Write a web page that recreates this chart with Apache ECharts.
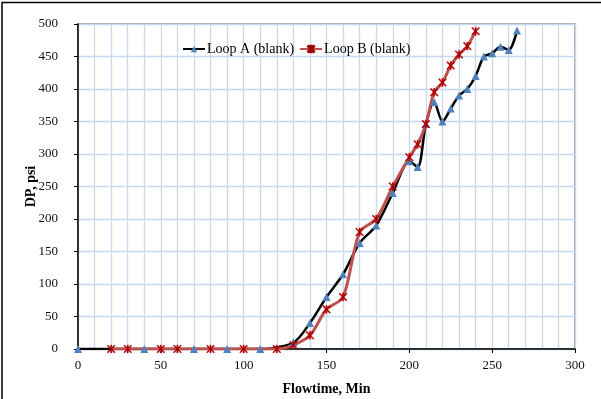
<!DOCTYPE html>
<html>
<head>
<meta charset="utf-8">
<script src="https://cdn.jsdelivr.net/npm/echarts@6/dist/echarts.min.js"></script>
<style>
html,body{margin:0;padding:0;background:#fff;}
#c{width:601px;height:399px;}
</style>
</head>
<body>
<div id="c"></div>
<script>
// ---- data ----
const seriesNames = ["Loop A (blank)", "Loop B (blank)"];
const timeA = [0, 40, 70, 90, 110, 130, 140, 150, 160, 170, 180, 190, 200, 205, 210, 215, 220, 225, 230, 235, 240, 245, 250, 255, 260, 265];
const dpA   = [0, 0, 0, 0, 0, 10, 40, 80, 115, 163, 190, 240, 289, 280, 346, 380, 350, 370, 390, 400, 420, 450, 455, 465, 460, 490];
const timeB = [20, 30, 50, 60, 80, 100, 120, 130, 140, 150, 160, 170, 180, 190, 200, 205, 210, 215, 220, 225, 230, 235, 240];
const dpB   = [0, 0, 0, 0, 0, 0, 0, 6, 21, 61, 80, 180, 200, 250, 295, 315, 346, 395, 410, 436, 453, 466, 489];
const xTicks = [0, 50, 100, 150, 200, 250, 300];
const yTicks = [0, 50, 100, 150, 200, 250, 300, 350, 400, 450, 500];
const xTitle = "Flowtime, Min";
const yTitle = "DP, psi";

const font = "Liberation Serif";
const starPath = "path://M0,1L1,0L10,9L9,10Z M9,0L10,1L1,10L0,9Z M4.3,0L5.7,0L5.7,10L4.3,10Z";

const chart = echarts.init(document.getElementById('c'), null, {renderer: 'canvas'});
chart.setOption({
  animation: false,
  backgroundColor: '#fff',
  textStyle: {fontFamily: font},
  graphic: [{
    type: 'rect', silent: true, z: 100,
    shape: {x: 2, y: 2.5, width: 640, height: 440},
    style: {fill: 'none', stroke: '#000', lineWidth: 1.5}
  }],
  legend: {
    left: 177, top: 37,
    itemWidth: 22, itemHeight: 8, itemGap: 5,
    textStyle: {fontFamily: font, fontSize: 14, color: '#000', padding: [0, 0, 0, -3]},
    data: seriesNames
  },
  grid: {
    left: 78, right: 26, top: 24, bottom: 50,
    outerBoundsMode: 'none', containLabel: false,
    show: true, borderColor: '#868686', borderWidth: 1.5, backgroundColor: 'transparent'
  },
  xAxis: {
    type: 'value', min: xTicks[0], max: xTicks[xTicks.length - 1], interval: 50,
    name: xTitle, nameLocation: 'middle', nameGap: 33, nameMoveOverlap: false,
    nameTextStyle: {fontFamily: font, fontSize: 14, fontWeight: 'bold', color: '#000'},
    axisLine: {show: true, onZero: false, lineStyle: {color: '#000', width: 1.5}},
    axisTick: {show: true, inside: false, length: 4, lineStyle: {color: '#000', width: 1}},
    axisLabel: {fontFamily: font, fontSize: 13, color: '#111', margin: 10},
    splitLine: {show: true, lineStyle: {color: '#c6d9f0', width: 1.3}},
    minorTick: {show: false, splitNumber: 5},
    minorSplitLine: {show: true, lineStyle: {color: '#c6d9f0', width: 1.3}}
  },
  yAxis: {
    type: 'value', min: yTicks[0], max: yTicks[yTicks.length - 1], interval: 50,
    name: yTitle, nameLocation: 'middle', nameGap: 40, nameRotate: 90, nameMoveOverlap: false,
    nameTextStyle: {fontFamily: font, fontSize: 14, fontWeight: 'bold', color: '#000'},
    axisLine: {show: true, onZero: false, lineStyle: {color: '#000', width: 1.5}},
    axisTick: {show: true, inside: false, length: 4, lineStyle: {color: '#000', width: 1}},
    axisLabel: {fontFamily: font, fontSize: 13, color: '#111', margin: 20},
    splitLine: {show: true, lineStyle: {color: '#c6d9f0', width: 1.3}}
  },
  series: [
    {
      name: seriesNames[0], type: 'line', smooth: 0.3,
      data: timeA.map((t, i) => [t, dpA[i]]),
      lineStyle: {color: '#000', width: 2.5},
      itemStyle: {color: '#4f81bd'},
      symbol: 'triangle', symbolSize: 8, showSymbol: true
    },
    {
      name: seriesNames[1], type: 'line', smooth: 0.3,
      data: timeB.map((t, i) => [t, dpB[i]]),
      lineStyle: {color: '#c0504d', width: 3},
      itemStyle: {color: '#c00000', borderColor: '#a00000', borderWidth: 0.5},
      symbol: starPath, symbolSize: 8, showSymbol: true
    }
  ]
});
</script>
</body>
</html>
